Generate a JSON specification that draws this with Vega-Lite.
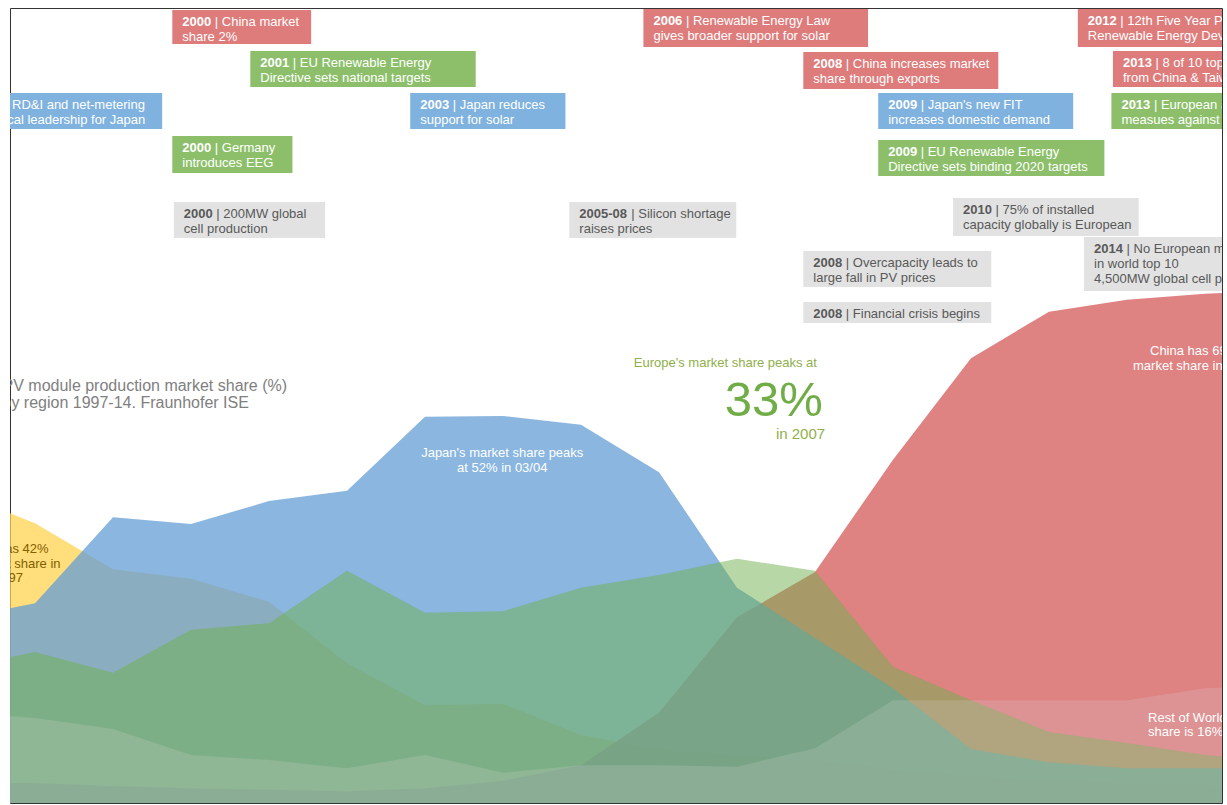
{
  "$schema": "https://vega.github.io/schema/vega-lite/v6.json",
  "width": 1212,
  "height": 795,
  "autosize": {"type": "none"},
  "padding": {"left": 10, "top": 8, "right": 5, "bottom": 2},
  "background": "white",
  "config": {"view": {"stroke": "#333333", "strokeWidth": 1}, "font": "Liberation Sans"},
  "resolve": {"scale": {"color": "independent"}},
  "datasets": {
    "share": [
      {"region": "USA", "year": 1997, "share": 42.0}, {"region": "USA", "year": 1998, "share": 37.8}, {"region": "USA", "year": 1999, "share": 31.6}, {"region": "USA", "year": 2000, "share": 30.3}, {"region": "USA", "year": 2001, "share": 27.2}, {"region": "USA", "year": 2002, "share": 18.9}, {"region": "USA", "year": 2003, "share": 13.2}, {"region": "USA", "year": 2004, "share": 13.4}, {"region": "USA", "year": 2005, "share": 9.2}, {"region": "USA", "year": 2006, "share": 7.2}, {"region": "USA", "year": 2007, "share": 6.5}, {"region": "USA", "year": 2008, "share": 5.8}, {"region": "USA", "year": 2009, "share": 4.5}, {"region": "USA", "year": 2010, "share": 3.6}, {"region": "USA", "year": 2011, "share": 3.1}, {"region": "USA", "year": 2012, "share": 2.7}, {"region": "USA", "year": 2013, "share": 2.4}, {"region": "USA", "year": 2014, "share": 2.3},
      {"region": "China", "year": 1997, "share": 2.7}, {"region": "China", "year": 1998, "share": 2.7}, {"region": "China", "year": 1999, "share": 2.3}, {"region": "China", "year": 2000, "share": 2.0}, {"region": "China", "year": 2001, "share": 1.8}, {"region": "China", "year": 2002, "share": 1.6}, {"region": "China", "year": 2003, "share": 2.0}, {"region": "China", "year": 2004, "share": 3.0}, {"region": "China", "year": 2005, "share": 5.1}, {"region": "China", "year": 2006, "share": 12.2}, {"region": "China", "year": 2007, "share": 25.1}, {"region": "China", "year": 2008, "share": 31.2}, {"region": "China", "year": 2009, "share": 46.4}, {"region": "China", "year": 2010, "share": 60.1}, {"region": "China", "year": 2011, "share": 66.4}, {"region": "China", "year": 2012, "share": 68.0}, {"region": "China", "year": 2013, "share": 68.8}, {"region": "China", "year": 2014, "share": 69.3},
      {"region": "Japan", "year": 1997, "share": 24.9}, {"region": "Japan", "year": 1998, "share": 27.0}, {"region": "Japan", "year": 1999, "share": 38.6}, {"region": "Japan", "year": 2000, "share": 37.7}, {"region": "Japan", "year": 2001, "share": 40.8}, {"region": "Japan", "year": 2002, "share": 42.2}, {"region": "Japan", "year": 2003, "share": 52.2}, {"region": "Japan", "year": 2004, "share": 52.3}, {"region": "Japan", "year": 2005, "share": 51.1}, {"region": "Japan", "year": 2006, "share": 44.7}, {"region": "Japan", "year": 2007, "share": 29.1}, {"region": "Japan", "year": 2008, "share": 22.3}, {"region": "Japan", "year": 2009, "share": 15.5}, {"region": "Japan", "year": 2010, "share": 7.3}, {"region": "Japan", "year": 2011, "share": 5.5}, {"region": "Japan", "year": 2012, "share": 4.7}, {"region": "Japan", "year": 2013, "share": 4.7}, {"region": "Japan", "year": 2014, "share": 4.7},
      {"region": "Europe", "year": 1997, "share": 18.2}, {"region": "Europe", "year": 1998, "share": 20.4}, {"region": "Europe", "year": 1999, "share": 17.6}, {"region": "Europe", "year": 2000, "share": 23.4}, {"region": "Europe", "year": 2001, "share": 24.3}, {"region": "Europe", "year": 2002, "share": 31.4}, {"region": "Europe", "year": 2003, "share": 25.7}, {"region": "Europe", "year": 2004, "share": 25.9}, {"region": "Europe", "year": 2005, "share": 29.1}, {"region": "Europe", "year": 2006, "share": 30.8}, {"region": "Europe", "year": 2007, "share": 33.0}, {"region": "Europe", "year": 2008, "share": 31.4}, {"region": "Europe", "year": 2009, "share": 18.4}, {"region": "Europe", "year": 2010, "share": 13.9}, {"region": "Europe", "year": 2011, "share": 9.6}, {"region": "Europe", "year": 2012, "share": 8.1}, {"region": "Europe", "year": 2013, "share": 6.5}, {"region": "Europe", "year": 2014, "share": 5.5},
      {"region": "Rest of World", "year": 1997, "share": 12.3}, {"region": "Rest of World", "year": 1998, "share": 11.5}, {"region": "Rest of World", "year": 1999, "share": 10.0}, {"region": "Rest of World", "year": 2000, "share": 6.5}, {"region": "Rest of World", "year": 2001, "share": 5.8}, {"region": "Rest of World", "year": 2002, "share": 4.7}, {"region": "Rest of World", "year": 2003, "share": 6.5}, {"region": "Rest of World", "year": 2004, "share": 4.1}, {"region": "Rest of World", "year": 2005, "share": 5.1}, {"region": "Rest of World", "year": 2006, "share": 5.1}, {"region": "Rest of World", "year": 2007, "share": 4.9}, {"region": "Rest of World", "year": 2008, "share": 7.4}, {"region": "Rest of World", "year": 2009, "share": 13.9}, {"region": "Rest of World", "year": 2010, "share": 13.9}, {"region": "Rest of World", "year": 2011, "share": 13.9}, {"region": "Rest of World", "year": 2012, "share": 13.9}, {"region": "Rest of World", "year": 2013, "share": 15.5}, {"region": "Rest of World", "year": 2014, "share": 16.0}
    ],
    "notes": [
      {"kind": "china", "yr": "2000", "head": "| China market", "body": "share 2%", "start": 1999.76, "end": 2001.54, "top": 107.16, "bottom": 102.57},
      {"kind": "china", "yr": "2006", "head": "| Renewable Energy Law", "body": "gives broader support for solar", "start": 2005.80, "end": 2008.68, "top": 107.29, "bottom": 102.16},
      {"kind": "china", "yr": "2008", "head": "| China increases market", "body": "share through exports", "start": 2007.85, "end": 2010.35, "top": 101.48, "bottom": 96.48},
      {"kind": "china", "yr": "2012", "head": "| 12th Five Year Plan for", "body": "Renewable Energy Development", "start": 2011.37, "end": 2014.6, "top": 107.29, "bottom": 102.16},
      {"kind": "china", "yr": "2013", "head": "| 8 of 10 top manufacturers", "body": "from China & Taiwan", "start": 2011.82, "end": 2014.6, "top": 101.62, "bottom": 96.75},
      {"kind": "eu", "yr": "2001", "head": "| EU Renewable Energy", "body": "Directive sets national targets", "start": 2000.76, "end": 2003.65, "top": 101.62, "bottom": 96.75},
      {"kind": "eu", "yr": "2000", "head": "| Germany", "body": "introduces EEG", "start": 1999.76, "end": 2001.30, "top": 90.13, "bottom": 85.13},
      {"kind": "eu", "yr": "2009", "head": "| EU Renewable Energy", "body": "Directive sets binding 2020 targets", "start": 2008.81, "end": 2011.71, "top": 89.59, "bottom": 84.73},
      {"kind": "eu", "yr": "2013", "head": "| European anti-dumping", "body": "measues against China", "start": 2011.80, "end": 2014.6, "top": 95.94, "bottom": 91.08},
      {"kind": "japan", "yr": "1994", "head": "| RD&I and net-metering", "body": "technical leadership for Japan", "start": 1997.07, "end": 1999.63, "top": 95.94, "bottom": 91.08},
      {"kind": "japan", "yr": "2003", "head": "| Japan reduces", "body": "support for solar", "start": 2002.81, "end": 2004.80, "top": 95.94, "bottom": 91.08},
      {"kind": "japan", "yr": "2009", "head": "| Japan's new FIT", "body": "increases domestic demand", "start": 2008.81, "end": 2011.31, "top": 95.94, "bottom": 91.08},
      {"kind": "general", "yr": "2000", "head": "| 200MW global", "body": "cell production", "start": 1999.78, "end": 2001.72, "top": 81.21, "bottom": 76.35},
      {"kind": "general", "yr": "2005-08", "head": "| Silicon shortage", "body": "raises prices", "start": 2004.85, "end": 2006.99, "top": 81.21, "bottom": 76.35},
      {"kind": "general", "yr": "2010", "head": "| 75% of installed", "body": "capacity globally is European", "start": 2009.77, "end": 2012.15, "top": 81.75, "bottom": 76.62},
      {"kind": "general", "yr": "2014", "head": "| No European manufacturer", "body": "in world top 10\n4,500MW global cell production", "start": 2011.45, "end": 2014.6, "top": 76.48, "bottom": 69.19},
      {"kind": "general", "yr": "2008", "head": "| Overcapacity leads to", "body": "large fall in PV prices", "start": 2007.85, "end": 2010.26, "top": 74.59, "bottom": 69.73},
      {"kind": "general", "yr": "2008", "head": "| Financial crisis begins", "body": "", "start": 2007.85, "end": 2010.26, "top": 67.70, "bottom": 64.86}
    ],
    "labels": [
      {"id": "japan", "text": "Japan's market share peaks\nat 52% in 03/04"},
      {"id": "eulead", "text": "Europe's market share peaks at"},
      {"id": "eu33", "text": "33%"},
      {"id": "euyear", "text": "in 2007"},
      {"id": "china", "text": "China has 69%\nmarket share in 2014"},
      {"id": "row", "text": "Rest of World\nshare is 16%"},
      {"id": "usa", "text": "USA has 42%\nof market share in\n1997"},
      {"id": "title", "text": "PV module production market share (%)\nby region 1997-14. Fraunhofer ISE"}
    ]
  },
  "layer": [
    {
      "data": {"name": "share"},
      "transform": [{"filter": "datum.region === 'USA'"}],
      "mark": {"type": "area", "color": "#ffd34f", "opacity": 0.75, "clip": true},
      "encoding": {
        "x": {"field": "year", "type": "quantitative", "scale": {"domain": [1997.679, 2013.218], "nice": false, "zero": false},
          "axis": {"values": [1998, 1999, 2000, 2001, 2002, 2003, 2004, 2005, 2006, 2007, 2008, 2009, 2010, 2011, 2012, 2013], "format": "d", "domain": false, "ticks": false, "grid": false, "labelPadding": 0, "labelBaseline": "alphabetic", "offset": -610, "labelFont": "Liberation Sans", "labelFontWeight": "bold", "labelFontSize": 14, "labelColor": "#1a1a1a", "title": null, "labelFlush": false, "labelOverlap": false}},
        "y": {"field": "share", "type": "quantitative", "stack": null, "scale": {"domain": [0, 107.43], "nice": false}, "axis": null}
      }
    },
    {
      "data": {"name": "share"},
      "transform": [{"filter": "datum.region === 'China'"}],
      "mark": {"type": "area", "color": "#da6e6d", "opacity": 0.86, "clip": true},
      "encoding": {
        "x": {"field": "year", "type": "quantitative", "axis": null},
        "y": {"field": "share", "type": "quantitative", "stack": null, "axis": null}
      }
    },
    {
      "data": {"name": "share"},
      "transform": [{"filter": "datum.region === 'Japan'"}],
      "mark": {"type": "area", "color": "#659fd5", "opacity": 0.76, "clip": true},
      "encoding": {
        "x": {"field": "year", "type": "quantitative", "axis": null},
        "y": {"field": "share", "type": "quantitative", "stack": null, "axis": null}
      }
    },
    {
      "data": {"name": "share"},
      "transform": [{"filter": "datum.region === 'Europe'"}],
      "mark": {"type": "area", "color": "#6faf4d", "opacity": 0.5, "clip": true},
      "encoding": {
        "x": {"field": "year", "type": "quantitative", "axis": null},
        "y": {"field": "share", "type": "quantitative", "stack": null, "axis": null}
      }
    },
    {
      "data": {"name": "share"},
      "transform": [{"filter": "datum.region === 'Rest of World'"}],
      "mark": {"type": "area", "color": "#d5d8d6", "opacity": 0.2, "clip": true},
      "encoding": {
        "x": {"field": "year", "type": "quantitative", "axis": null},
        "y": {"field": "share", "type": "quantitative", "stack": null, "axis": null}
      }
    },
    {
      "data": {"name": "labels"},
      "transform": [{"filter": "datum.id === 'japan'"}],
      "mark": {"type": "text", "align": "center", "baseline": "alphabetic", "fontSize": 13, "lineHeight": 15, "lineBreak": "\n", "color": "#ffffff", "clip": true},
      "encoding": {
        "x": {"datum": 2003.99, "type": "quantitative", "axis": null},
        "y": {"datum": 46.75, "type": "quantitative", "axis": null},
        "text": {"field": "text"}
      }
    },
    {
      "data": {"name": "labels"},
      "transform": [{"filter": "datum.id === 'eulead'"}],
      "mark": {"type": "text", "align": "right", "baseline": "alphabetic", "fontSize": 13, "color": "#8fb04a", "clip": true},
      "encoding": {
        "x": {"datum": 2008.025, "type": "quantitative", "axis": null},
        "y": {"datum": 58.92, "type": "quantitative", "axis": null},
        "text": {"field": "text"}
      }
    },
    {
      "data": {"name": "labels"},
      "transform": [{"filter": "datum.id === 'eu33'"}],
      "mark": {"type": "text", "align": "right", "baseline": "alphabetic", "fontSize": 49, "color": "#70ad47", "clip": true},
      "encoding": {
        "x": {"datum": 2008.1, "type": "quantitative", "axis": null},
        "y": {"datum": 52.29, "type": "quantitative", "axis": null},
        "text": {"field": "text"}
      }
    },
    {
      "data": {"name": "labels"},
      "transform": [{"filter": "datum.id === 'euyear'"}],
      "mark": {"type": "text", "align": "right", "baseline": "alphabetic", "fontSize": 15, "color": "#8fb04a", "clip": true},
      "encoding": {
        "x": {"datum": 2008.13, "type": "quantitative", "axis": null},
        "y": {"datum": 49.2, "type": "quantitative", "axis": null},
        "text": {"field": "text"}
      }
    },
    {
      "data": {"name": "labels"},
      "transform": [{"filter": "datum.id === 'china'"}],
      "mark": {"type": "text", "align": "center", "baseline": "alphabetic", "fontSize": 13, "lineHeight": 15, "lineBreak": "\n", "color": "#ffffff", "clip": true},
      "encoding": {
        "x": {"datum": 2012.86, "type": "quantitative", "axis": null},
        "y": {"datum": 60.54, "type": "quantitative", "axis": null},
        "text": {"field": "text"}
      }
    },
    {
      "data": {"name": "labels"},
      "transform": [{"filter": "datum.id === 'row'"}],
      "mark": {"type": "text", "align": "left", "baseline": "alphabetic", "fontSize": 13, "lineHeight": 14, "lineBreak": "\n", "color": "#ffffff", "clip": true},
      "encoding": {
        "x": {"datum": 2012.27, "type": "quantitative", "axis": null},
        "y": {"datum": 10.94, "type": "quantitative", "axis": null},
        "text": {"field": "text"}
      }
    },
    {
      "data": {"name": "labels"},
      "transform": [{"filter": "datum.id === 'usa'"}],
      "mark": {"type": "text", "align": "center", "baseline": "alphabetic", "fontSize": 13, "lineHeight": 14.5, "lineBreak": "\n", "color": "#7f6000", "clip": true},
      "encoding": {
        "x": {"datum": 1997.66, "type": "quantitative", "axis": null},
        "y": {"datum": 33.78, "type": "quantitative", "axis": null},
        "text": {"field": "text"}
      }
    },
    {
      "data": {"name": "labels"},
      "transform": [{"filter": "datum.id === 'title'"}],
      "mark": {"type": "text", "align": "left", "baseline": "alphabetic", "fontSize": 16, "lineHeight": 17, "lineBreak": "\n", "color": "#808080", "clip": true},
      "encoding": {
        "x": {"datum": 1997.583, "type": "quantitative", "axis": null},
        "y": {"datum": 55.67, "type": "quantitative", "axis": null},
        "text": {"field": "text"}
      }
    },
    {
      "data": {"name": "notes"},
      "mark": {"type": "rect", "clip": true},
      "encoding": {
        "x": {"field": "start", "type": "quantitative", "axis": null},
        "x2": {"field": "end"},
        "y": {"field": "top", "type": "quantitative", "axis": null},
        "y2": {"field": "bottom"},
        "color": {"field": "kind", "type": "nominal", "legend": null, "scale": {"domain": ["china", "eu", "japan", "general"], "range": ["#de7c7c", "#8dbf6b", "#80b2e0", "#e2e2e2"]}}
      }
    },
    {
      "data": {"name": "notes"},
      "mark": {"type": "text", "align": "left", "baseline": "alphabetic", "dx": 10, "dy": 16, "fontSize": 13, "fontWeight": "bold", "clip": true},
      "encoding": {
        "x": {"field": "start", "type": "quantitative", "axis": null},
        "y": {"field": "top", "type": "quantitative", "axis": null},
        "text": {"field": "yr"},
        "color": {"field": "kind", "type": "nominal", "legend": null, "scale": {"domain": ["china", "eu", "japan", "general"], "range": ["#ffffff", "#ffffff", "#ffffff", "#595959"]}}
      }
    },
    {
      "data": {"name": "notes"},
      "transform": [{"filter": "length(datum.yr) === 4"}],
      "mark": {"type": "text", "align": "left", "baseline": "alphabetic", "dx": 42.5, "dy": 16, "fontSize": 13, "clip": true},
      "encoding": {
        "x": {"field": "start", "type": "quantitative", "axis": null},
        "y": {"field": "top", "type": "quantitative", "axis": null},
        "text": {"field": "head"},
        "color": {"field": "kind", "type": "nominal", "legend": null, "scale": {"domain": ["china", "eu", "japan", "general"], "range": ["#ffffff", "#ffffff", "#ffffff", "#595959"]}}
      }
    },
    {
      "data": {"name": "notes"},
      "transform": [{"filter": "length(datum.yr) !== 4"}],
      "mark": {"type": "text", "align": "left", "baseline": "alphabetic", "dx": 62, "dy": 16, "fontSize": 13, "clip": true},
      "encoding": {
        "x": {"field": "start", "type": "quantitative", "axis": null},
        "y": {"field": "top", "type": "quantitative", "axis": null},
        "text": {"field": "head"},
        "color": {"field": "kind", "type": "nominal", "legend": null, "scale": {"domain": ["china", "eu", "japan", "general"], "range": ["#ffffff", "#ffffff", "#ffffff", "#595959"]}}
      }
    },
    {
      "data": {"name": "notes"},
      "transform": [{"filter": "datum.body !== ''"}],
      "mark": {"type": "text", "align": "left", "baseline": "alphabetic", "dx": 10, "dy": 31, "fontSize": 13, "lineHeight": 15, "lineBreak": "\n", "clip": true},
      "encoding": {
        "x": {"field": "start", "type": "quantitative", "axis": null},
        "y": {"field": "top", "type": "quantitative", "axis": null},
        "text": {"field": "body"},
        "color": {"field": "kind", "type": "nominal", "legend": null, "scale": {"domain": ["china", "eu", "japan", "general"], "range": ["#ffffff", "#ffffff", "#ffffff", "#595959"]}}
      }
    }
  ]
}
